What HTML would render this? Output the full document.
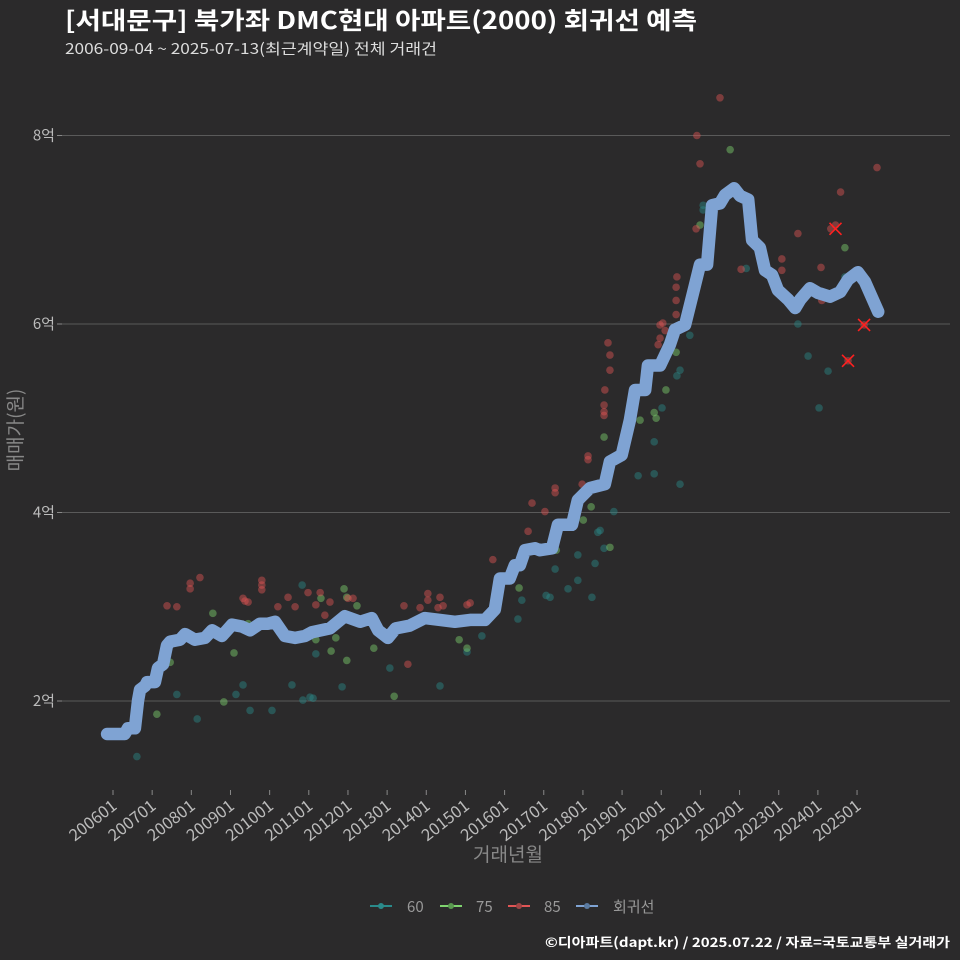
<!DOCTYPE html>
<html><head><meta charset="utf-8"><style>
html,body{margin:0;padding:0;background:#2b2a2b;}
svg{display:block;font-family:"Noto Sans CJK KR","Liberation Sans",sans-serif;}
</style></head><body>
<svg id="chart" width="960" height="960" viewBox="0 0 960 960">
<rect width="960" height="960" fill="#2b2a2b"/>
<text x="65" y="29" fill="#ffffff" font-size="24" font-weight="bold" textLength="632" lengthAdjust="spacingAndGlyphs">[서대문구] 북가좌 DMC현대 아파트(2000) 회귀선 예측</text>
<text x="65" y="54" fill="#dddddd" font-size="15" textLength="372" lengthAdjust="spacingAndGlyphs">2006-09-04 ~ 2025-07-13(최근계약일) 전체 거래건</text>
<g id="grid"></g>
<g id="yaxis"></g>
<g id="xaxis"></g>
<g id="points"></g>
<g id="line"></g>
<g id="marks"></g>
<text transform="translate(22,430) rotate(-90)" text-anchor="middle" fill="#888" font-size="19">매매가(원)</text>
<text x="508" y="861" text-anchor="middle" fill="#888" font-size="19">거래년월</text>
<g>
 <g><line x1="370" y1="906" x2="392" y2="906" stroke="#2a8a8a" stroke-width="2"/><circle cx="381" cy="906" r="3" fill="#2a8a8a"/><text x="407" y="912" fill="#999" font-size="15">60</text></g>
 <g><line x1="440" y1="906" x2="462" y2="906" stroke="#7fd36f" stroke-width="2"/><circle cx="451" cy="906" r="3" fill="#5a9a50"/><text x="476" y="912" fill="#999" font-size="15">75</text></g>
 <g><line x1="508" y1="906" x2="530" y2="906" stroke="#e05555" stroke-width="2"/><circle cx="519" cy="906" r="3" fill="#a04545"/><text x="544" y="912" fill="#999" font-size="15">85</text></g>
 <g><line x1="576" y1="906" x2="598" y2="906" stroke="#7fa3d3" stroke-width="2"/><circle cx="587" cy="906" r="3" fill="#5a7aa0"/><text x="613" y="912" fill="#999" font-size="15">회귀선</text></g>
</g>
<text x="950" y="947" text-anchor="end" fill="#ffffff" font-size="13" font-weight="bold" textLength="405" lengthAdjust="spacingAndGlyphs">©디아파트(dapt.kr) / 2025.07.22 / 자료=국토교통부 실거래가</text>
</svg>
<script>
const yTicks=[2,4,6,8];
const yTickLabels=["2억","4억","6억","8억"];
const xTickYears=[2006,2007,2008,2009,2010,2011,2012,2013,2014,2015,2016,2017,2018,2019,2020,2021,2022,2023,2024,2025];
const xTickLabels=["200601","200701","200801","200901","201001","201101","201201","201301","201401","201501","201601","201701","201801","201901","202001","202101","202201","202301","202401","202501"];
const lineYears=[2005.85,2006.3,2006.38,2006.56,2006.64,2006.69,2006.82,2006.87,2007.07,2007.15,2007.28,2007.38,2007.46,2007.71,2007.84,2008.09,2008.35,2008.53,2008.78,2009.04,2009.29,2009.5,2009.75,2009.96,2010.14,2010.39,2010.65,2010.9,2011.08,2011.54,2011.92,2012.31,2012.61,2012.77,2013.02,2013.22,2013.58,2013.96,2014.35,2014.73,2015.12,2015.5,2015.75,2015.88,2016.13,2016.26,2016.39,2016.52,2016.78,2016.9,2017.21,2017.36,2017.72,2017.87,2018.18,2018.56,2018.69,2018.99,2019.2,2019.33,2019.59,2019.66,2019.97,2020.22,2020.35,2020.61,2020.86,2020.99,2021.17,2021.3,2021.5,2021.63,2021.86,2022.01,2022.22,2022.32,2022.52,2022.65,2022.83,2022.98,2023.24,2023.42,2023.55,2023.8,2024.0,2024.31,2024.57,2024.77,2025.02,2025.2,2025.54];
const lineValues=[1.65,1.65,1.71,1.71,2.01,2.12,2.16,2.2,2.2,2.35,2.39,2.59,2.63,2.65,2.71,2.65,2.67,2.75,2.69,2.81,2.79,2.75,2.82,2.82,2.84,2.69,2.67,2.69,2.73,2.77,2.9,2.84,2.88,2.75,2.67,2.77,2.8,2.88,2.86,2.84,2.86,2.86,2.97,3.3,3.3,3.44,3.44,3.6,3.62,3.6,3.62,3.87,3.87,4.13,4.26,4.3,4.54,4.61,4.98,5.3,5.3,5.56,5.56,5.78,5.94,5.99,6.41,6.63,6.63,7.26,7.28,7.37,7.44,7.36,7.32,6.89,6.81,6.57,6.52,6.36,6.26,6.17,6.26,6.38,6.33,6.29,6.34,6.47,6.55,6.45,6.13];
const redYears=[2007.38,2007.63,2007.97,2007.97,2008.22,2009.32,2009.37,2009.45,2009.8,2009.8,2009.8,2010.21,2010.47,2010.65,2010.98,2011.18,2011.29,2011.54,2012.0,2012.13,2011.41,2013.43,2013.53,2013.84,2014.04,2014.04,2014.3,2014.35,2014.43,2015.04,2015.12,2015.7,2016.6,2016.7,2017.03,2017.29,2017.29,2017.98,2018.13,2018.13,2018.54,2018.54,2018.54,2018.56,2018.64,2018.69,2018.69,2019.92,2019.97,2019.97,2020.04,2020.1,2020.38,2020.38,2020.4,2020.38,2020.89,2020.91,2020.99,2021.5,2022.04,2023.08,2023.08,2023.49,2024.08,2024.1,2024.33,2024.45,2024.58,2025.51,2024.77,2025.18];
const redValues=[3.01,3.0,3.25,3.19,3.31,3.09,3.06,3.05,3.28,3.23,3.18,3.0,3.1,3.0,3.15,3.02,3.15,3.05,3.09,3.09,2.91,3.01,2.39,2.99,3.14,3.07,2.99,3.1,3.01,3.02,3.04,3.5,3.8,4.1,4.01,4.26,4.21,4.3,4.6,4.56,5.14,5.07,5.03,5.3,5.8,5.67,5.51,5.78,5.99,5.85,6.01,5.93,6.25,6.39,6.5,6.1,7.01,8.0,7.7,8.4,6.58,6.69,6.57,6.96,6.6,6.25,7.01,7.05,7.4,7.66,5.61,5.99];
const greenYears=[2007.12,2007.46,2008.55,2008.83,2009.09,2009.45,2011.18,2011.31,2011.57,2011.69,2011.9,2011.97,2011.97,2012.23,2012.66,2013.18,2014.84,2015.04,2016.37,2017.32,2018.01,2018.21,2018.54,2018.69,2019.46,2019.82,2019.87,2020.12,2020.38,2020.99,2021.76,2024.69];
const greenValues=[1.86,2.41,2.93,1.99,2.51,2.82,2.65,3.09,2.53,2.67,3.19,3.1,2.43,3.01,2.56,2.05,2.65,2.56,3.2,3.6,3.92,4.06,4.8,3.63,4.98,5.06,5.0,5.3,5.7,7.05,7.85,6.81];
const tealYears=[2006.61,2007.63,2008.15,2009.14,2009.32,2009.5,2010.06,2010.57,2010.83,2010.85,2011.03,2011.11,2011.18,2011.85,2013.07,2014.35,2015.04,2015.42,2016.34,2016.44,2017.06,2017.16,2017.29,2017.62,2017.87,2017.87,2018.23,2018.31,2018.38,2018.44,2018.54,2018.79,2019.41,2019.82,2019.82,2020.02,2020.48,2020.4,2020.48,2020.73,2021.07,2021.07,2022.17,2023.49,2023.75,2024.03,2024.26,2024.69];
const tealValues=[1.41,2.07,1.81,2.07,2.17,1.9,1.9,2.17,3.23,2.01,2.04,2.03,2.5,2.15,2.35,2.16,2.52,2.69,2.87,3.07,3.12,3.1,3.4,3.19,3.28,3.55,3.1,3.46,3.79,3.81,3.62,4.01,4.39,4.41,4.75,5.11,4.3,5.45,5.51,5.88,7.21,7.26,6.59,6.0,5.66,5.11,5.5,6.5];
const markYears=[2024.45,2025.18,2024.77];
const markValues=[7.01,5.99,5.61];

const NS="http://www.w3.org/2000/svg";
const xScale=y=>113+(y-2006)*39.16;
const yScale=v=>701-(v-2)*94.25;
function mk(tag,attrs,parent){const e=document.createElementNS(NS,tag);for(const k in attrs)e.setAttribute(k,attrs[k]);parent.appendChild(e);return e;}
const grid=document.getElementById('grid'),ya=document.getElementById('yaxis'),xa=document.getElementById('xaxis');
yTicks.forEach((v,i)=>{
 const y=yScale(v);
 const gl=mk('line',{x1:62,x2:950,y1:y,y2:y,stroke:'#5a5a5a','stroke-width':1},grid);
 
 
 const tk=mk('line',{x1:57,x2:62,y1:y,y2:y,stroke:'#888'},ya);
 
 
 const t=mk('text',{x:55,y:y+5,'text-anchor':'end',fill:'#bbb','font-size':15},ya);
 t.textContent=yTickLabels[i];
 
 
});
xTickYears.forEach((yr,i)=>{
 const x=xScale(yr);
 const tk=mk('line',{x1:x,x2:x,y1:790,y2:795,stroke:'#888'},xa);
 
 
 const t=mk('text',{transform:`translate(${x+5},808) rotate(-38)`,'text-anchor':'end',fill:'#bbb','font-size':16.5},xa);
 t.textContent=xTickLabels[i];
 
 
});
const pts=document.getElementById('points');
function scatter(years,vals,color,name){
 years.forEach((yr,i)=>{
  const c=mk('circle',{cx:xScale(yr),cy:yScale(vals[i]),r:3.8,fill:color,'fill-opacity':0.45},pts);
  
  
 });
}
scatter(tealYears,tealValues,'#2a8a8a','point-60');
scatter(greenYears,greenValues,'#7fd36f','point-75');
scatter(redYears,redValues,'#e05555','point-85');
const d=lineYears.map((yr,i)=>(i?'L':'M')+xScale(yr).toFixed(1)+','+yScale(lineValues[i]).toFixed(1)).join('');
const ln=mk('path',{d:d,fill:'none',stroke:'#7fa3d3','stroke-width':12.5,'stroke-linejoin':'round','stroke-linecap':'round'},document.getElementById('line'));


const mg=document.getElementById('marks');
markYears.forEach((yr,i)=>{
 const x=xScale(yr),y=yScale(markValues[i]);
 const p=mk('path',{d:`M${x-6},${y-6}L${x+6},${y+6}M${x-6},${y+6}L${x+6},${y-6}`,stroke:'#ff2020','stroke-width':1.6},mg);
 
 
});
</script>
</body></html>
